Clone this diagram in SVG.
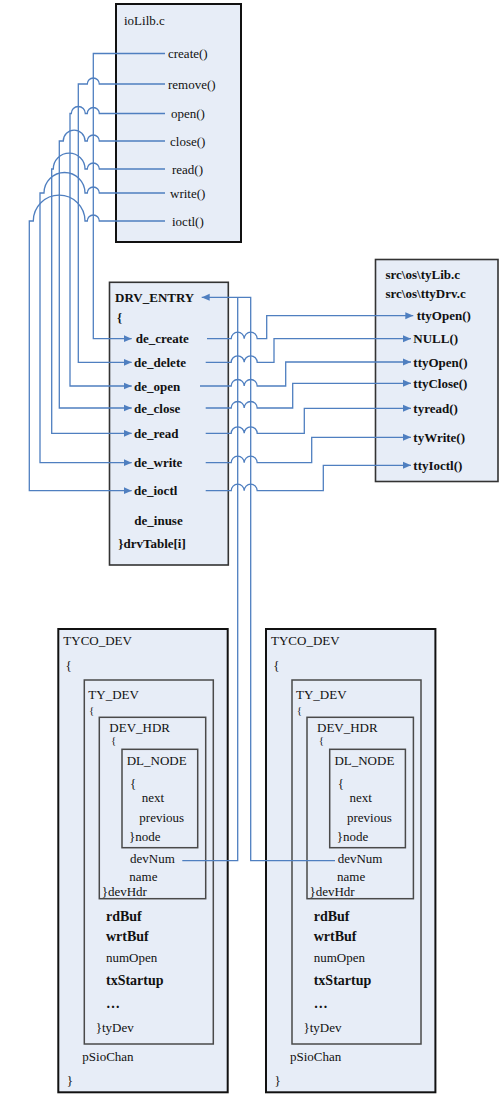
<svg xmlns="http://www.w3.org/2000/svg" width="501" height="1096" viewBox="0 0 501 1096">
<defs>
<style>
.box{fill:#e7edf7;stroke:#111;stroke-width:2}
.inner{fill:none;stroke:#4a4a4a;stroke-width:1.5}
.t{font-family:"Liberation Serif","Times New Roman",serif;font-size:13px;fill:#111}
.b{font-weight:bold}
.b14{font-weight:bold;font-size:14px}
.s{font-size:11px}
.c{fill:none;stroke:#4f7fc0;stroke-width:1.3}
</style>
<marker id="arr" markerUnits="userSpaceOnUse" markerWidth="8" markerHeight="8" refX="8" refY="4" orient="auto">
<path d="M0,0.5 L8,4 L0,7.5 z" fill="#4f7fc0"/>
</marker>
</defs>
<rect width="501" height="1096" fill="#fff"/>

<g id="ioLib">
<rect class="box" x="116" y="4" width="125" height="238"/>
<text class="t" x="124" y="24.5">ioLilb.c</text>
<text class="t" x="168" y="58">create()</text>
<text class="t" x="168" y="88.5">remove()</text>
<text class="t" x="171" y="118">open()</text>
<text class="t" x="170" y="145.5">close()</text>
<text class="t" x="172" y="173.5">read()</text>
<text class="t" x="170" y="197.5">write()</text>
<text class="t" x="172" y="225.5">ioctl()</text>
</g>

<g id="drvEntry">
<rect class="box" x="109.5" y="282.3" width="118.8" height="282.7" style="stroke:#333;stroke-width:1.6"/>
<text class="t b" x="115" y="301.8">DRV_ENTRY</text>
<text class="t b" x="117" y="322">{</text>
<text class="t b" x="135.7" y="343.2">de_create</text>
<text class="t b" x="134" y="366.8">de_delete</text>
<text class="t b" x="134" y="390.5">de_open</text>
<text class="t b" x="134" y="412.5">de_close</text>
<text class="t b" x="134" y="437.8">de_read</text>
<text class="t b" x="134" y="467.2">de_write</text>
<text class="t b" x="134" y="495.2">de_ioctl</text>
<text class="t b" x="134.3" y="524.5">de_inuse</text>
<text class="t b" x="118.3" y="548">}drvTable[i]</text>
</g>

<g id="ttyDrv">
<rect class="box" x="375.5" y="259.5" width="122.5" height="222" style="stroke:#333;stroke-width:1.6"/>
<text class="t b" x="385.5" y="279">src\os\tyLib.c</text>
<text class="t b" x="385.5" y="297.5">src\os\ttyDrv.c</text>
<text class="t b" x="416.7" y="320.2">ttyOpen()</text>
<text class="t b" x="413.3" y="343.2">NULL()</text>
<text class="t b" x="413.3" y="366.5">ttyOpen()</text>
<text class="t b" x="413.3" y="387.8">ttyClose()</text>
<text class="t b" x="413.3" y="412.8">tyread()</text>
<text class="t b" x="413.3" y="441.8">tyWrite()</text>
<text class="t b" x="413.3" y="469.8">ttyIoctl()</text>
</g>

<g id="tycoDev1">
<rect class="box" x="58.3" y="629" width="169.4" height="463.3"/>
<rect class="inner" x="84.3" y="680" width="129" height="364"/>
<rect class="inner" x="99.3" y="717.3" width="106.4" height="181.4"/>
<rect class="inner" x="122" y="749.3" width="75.7" height="98.4"/>
<text class="t" x="63.3" y="645">TYCO_DEV</text>
<text class="t" x="65.5" y="669.5">{</text>
<text class="t" x="88.3" y="698.5">TY_DEV</text>
<text class="t s" x="89" y="714">{</text>
<text class="t" x="109.3" y="731.5">DEV_HDR</text>
<text class="t s" x="111" y="744">{</text>
<text class="t" x="126.7" y="764.5">DL_NODE</text>
<text class="t" x="130" y="787.5">{</text>
<text class="t" x="141.7" y="802">next</text>
<text class="t" x="139.3" y="822">previous</text>
<text class="t" x="129" y="841">}node</text>
<text class="t" x="130" y="862.5">devNum</text>
<text class="t" x="129.3" y="880.5">name</text>
<text class="t" x="101.7" y="896">}devHdr</text>
<text class="t b14" x="106" y="920.5">rdBuf</text>
<text class="t b14" x="106" y="941">wrtBuf</text>
<text class="t" x="106" y="961.5">numOpen</text>
<text class="t b14" x="106" y="984.5">txStartup</text>
<text class="t b14" x="106" y="1008">…</text>
<text class="t" x="95.7" y="1032">}tyDev</text>
<text class="t" x="82.3" y="1061">pSioChan</text>
<text class="t" x="66.7" y="1084.5">}</text>
</g>

<g id="tycoDev2" transform="translate(207.7,0)">
<rect class="box" x="58.3" y="629" width="169.4" height="463.3"/>
<rect class="inner" x="84.3" y="680" width="129" height="364"/>
<rect class="inner" x="99.3" y="717.3" width="106.4" height="181.4"/>
<rect class="inner" x="122" y="749.3" width="75.7" height="98.4"/>
<text class="t" x="63.3" y="645">TYCO_DEV</text>
<text class="t" x="65.5" y="669.5">{</text>
<text class="t" x="88.3" y="698.5">TY_DEV</text>
<text class="t s" x="89" y="714">{</text>
<text class="t" x="109.3" y="731.5">DEV_HDR</text>
<text class="t s" x="111" y="744">{</text>
<text class="t" x="126.7" y="764.5">DL_NODE</text>
<text class="t" x="130" y="787.5">{</text>
<text class="t" x="141.7" y="802">next</text>
<text class="t" x="139.3" y="822">previous</text>
<text class="t" x="129" y="841">}node</text>
<text class="t" x="130" y="862.5">devNum</text>
<text class="t" x="129.3" y="880.5">name</text>
<text class="t" x="101.7" y="896">}devHdr</text>
<text class="t b14" x="106" y="920.5">rdBuf</text>
<text class="t b14" x="106" y="941">wrtBuf</text>
<text class="t" x="106" y="961.5">numOpen</text>
<text class="t b14" x="106" y="984.5">txStartup</text>
<text class="t b14" x="106" y="1008">…</text>
<text class="t" x="95.7" y="1032">}tyDev</text>
<text class="t" x="82.3" y="1061">pSioChan</text>
<text class="t" x="66.7" y="1084.5">}</text>
</g>

<g id="connectors">
<path class="c" marker-end="url(#arr)" d="M165,53.5 H93.3 V338.7 H131.7"/>
<path class="c" marker-end="url(#arr)" d="M165,84 H99.3 A6,6 0 0 0 87.3,84 H78.3 V362.3 H131.7"/>
<path class="c" marker-end="url(#arr)" d="M165,113.5 H99.3 A6,6 0 0 0 87.3,113.5 H85.3 A7,7 0 0 0 71.3,113.5 H70 V386 H131.7"/>
<path class="c" marker-end="url(#arr)" d="M165,141 H99.3 A6,6 0 0 0 87.3,141 H85 A10.85,10.85 0 0 0 63.3,141 H59.3 V408 H131.7"/>
<path class="c" marker-end="url(#arr)" d="M165,169 H99.3 A6,6 0 0 0 87.3,169 H85 A15.85,15.85 0 0 0 53.3,169 H51.7 V433.3 H131.7"/>
<path class="c" marker-end="url(#arr)" d="M165,193 H99.3 A6,6 0 0 0 87.3,193 H85 A20.5,20.5 0 0 0 44,193 H40 V462.7 H131.7"/>
<path class="c" marker-end="url(#arr)" d="M165,221 H99.3 A6,6 0 0 0 87.3,221 H85 A25.85,25.85 0 0 0 33.3,221 H29.3 V490.7 H131.7"/>

<path class="c" marker-end="url(#arr)" d="M207,338.7 H231.2 A6.5,6.5 0 0 1 244.2,338.7 A6.5,6.5 0 0 1 257.2,338.7 H266.7 V315.7 H413.3"/>
<path class="c" marker-end="url(#arr)" d="M205.7,362.3 H231.2 A6.5,6.5 0 0 1 244.2,362.3 A6.5,6.5 0 0 1 257.2,362.3 H274 V338.7 H411"/>
<path class="c" marker-end="url(#arr)" d="M200,386 H231.2 A6.5,6.5 0 0 1 244.2,386 A6.5,6.5 0 0 1 257.2,386 H285.7 V362 H411"/>
<path class="c" marker-end="url(#arr)" d="M205.7,408 H231.2 A6.5,6.5 0 0 1 244.2,408 A6.5,6.5 0 0 1 257.2,408 H292.7 V383.3 H411"/>
<path class="c" marker-end="url(#arr)" d="M205.7,433.3 H231.2 A6.5,6.5 0 0 1 244.2,433.3 A6.5,6.5 0 0 1 257.2,433.3 H304.3 V408.3 H411"/>
<path class="c" marker-end="url(#arr)" d="M205.7,462.7 H231.2 A6.5,6.5 0 0 1 244.2,462.7 A6.5,6.5 0 0 1 257.2,462.7 H311.7 V437.3 H411"/>
<path class="c" marker-end="url(#arr)" d="M205.7,490.7 H231.2 A6.5,6.5 0 0 1 244.2,490.7 A6.5,6.5 0 0 1 257.2,490.7 H323.3 V465.3 H411"/>

<path class="c" d="M182.3,860.7 H237.7 V297.3"/>
<path class="c" marker-end="url(#arr)" d="M335,860.7 H250.7 V297.3 H201.7"/>
</g>
</svg>
